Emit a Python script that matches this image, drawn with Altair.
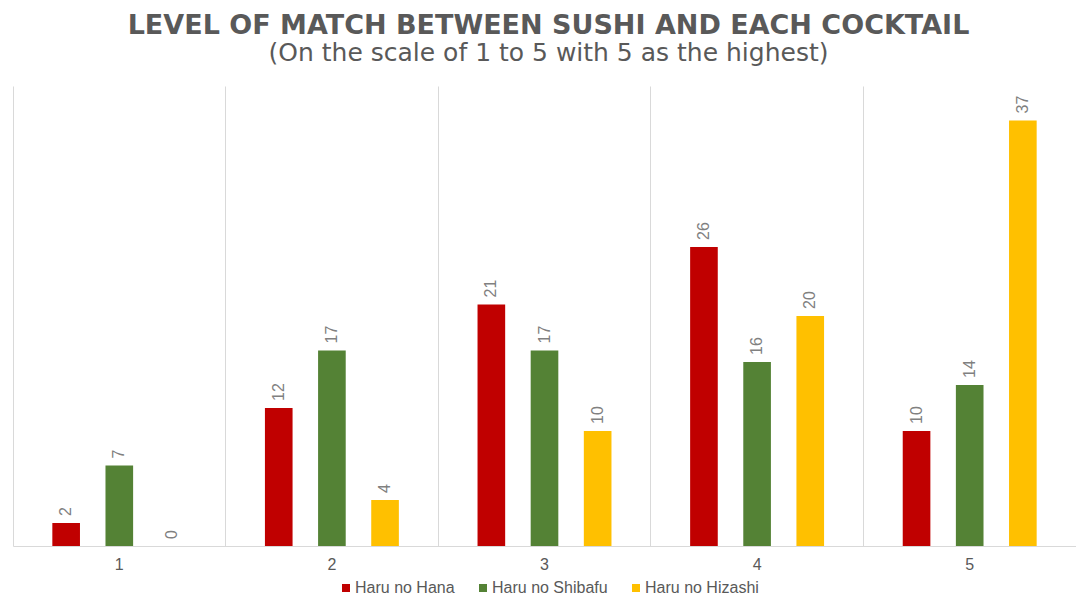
import altair as alt
import pandas as pd

categories = ["1", "2", "3", "4", "5"]
series = ["Haru no Hana", "Haru no Shibafu", "Haru no Hizashi"]
hana = [2, 12, 21, 26, 10]
shibafu = [7, 17, 17, 16, 14]
hizashi = [0, 4, 10, 20, 37]
colors = ["#C00000", "#548235", "#FFC000"]

rows = []
for name, vals in zip(series, [hana, shibafu, hizashi]):
    for c, v in zip(categories, vals):
        rows.append({"score": c, "cocktail": name, "value": v})
df = pd.DataFrame(rows)

font = "Liberation Sans"

base = alt.Chart(df).encode(
    x=alt.X(
        "score:N",
        sort=categories,
        scale=alt.Scale(paddingInner=0, paddingOuter=0),
        axis=alt.Axis(
            title=None,
            labelAngle=0,
            ticks=False,
            domainColor="#d9d9d9",
            grid=True,
            gridColor="#d9d9d9",
            bandPosition=0,
            labelFont=font,
            labelFontSize=16,
            labelColor="#595959",
            labelPadding=10,
        ),
    ),
    xOffset=alt.XOffset(
        "cocktail:N",
        sort=series,
        scale=alt.Scale(paddingInner=0.48, paddingOuter=0.74),
    ),
    y=alt.Y("value:Q", scale=alt.Scale(domain=[0, 40], nice=False), axis=None),
)

bars = base.mark_bar().encode(
    color=alt.Color(
        "cocktail:N",
        sort=series,
        scale=alt.Scale(domain=series, range=colors),
        legend=alt.Legend(
            title=None,
            orient="none",
            direction="horizontal",
            legendX=325,
            legendY=494,
            symbolType="square",
            symbolSize=64,
            symbolStrokeWidth=0,
            labelFont=font,
            labelFontSize=16,
            labelColor="#595959",
            labelOffset=1,
            columnPadding=20,
            padding=0,
        ),
    )
)

labels = base.mark_text(
    angle=270,
    align="left",
    baseline="middle",
    dx=7,
    font=font,
    fontSize=16,
    color="#808080",
).encode(text="value:Q")

chart = (
    alt.layer(bars, labels)
    .properties(
        width=1063,
        height=460,
        autosize=alt.AutoSizeParams(type="none"),
        padding={"left": 5, "top": 78, "right": 0, "bottom": 51},
        title=alt.TitleParams(
            text="LEVEL OF MATCH BETWEEN SUSHI AND EACH COCKTAIL",
            subtitle="(On the scale of 1 to 5 with 5 as the highest)",
            font="DejaVu Sans",
            fontSize=27,
            fontWeight="bold",
            color="#595959",
            subtitleFont="DejaVu Sans",
            subtitleFontSize=25,
            subtitleColor="#595959",
            anchor="middle",
            dx=4,
            offset=19,
            subtitlePadding=1,
        ),
    )
    .configure_view(stroke=None)
)

chart.save("out.html", embed_options={"renderer": "svg", "actions": False})
